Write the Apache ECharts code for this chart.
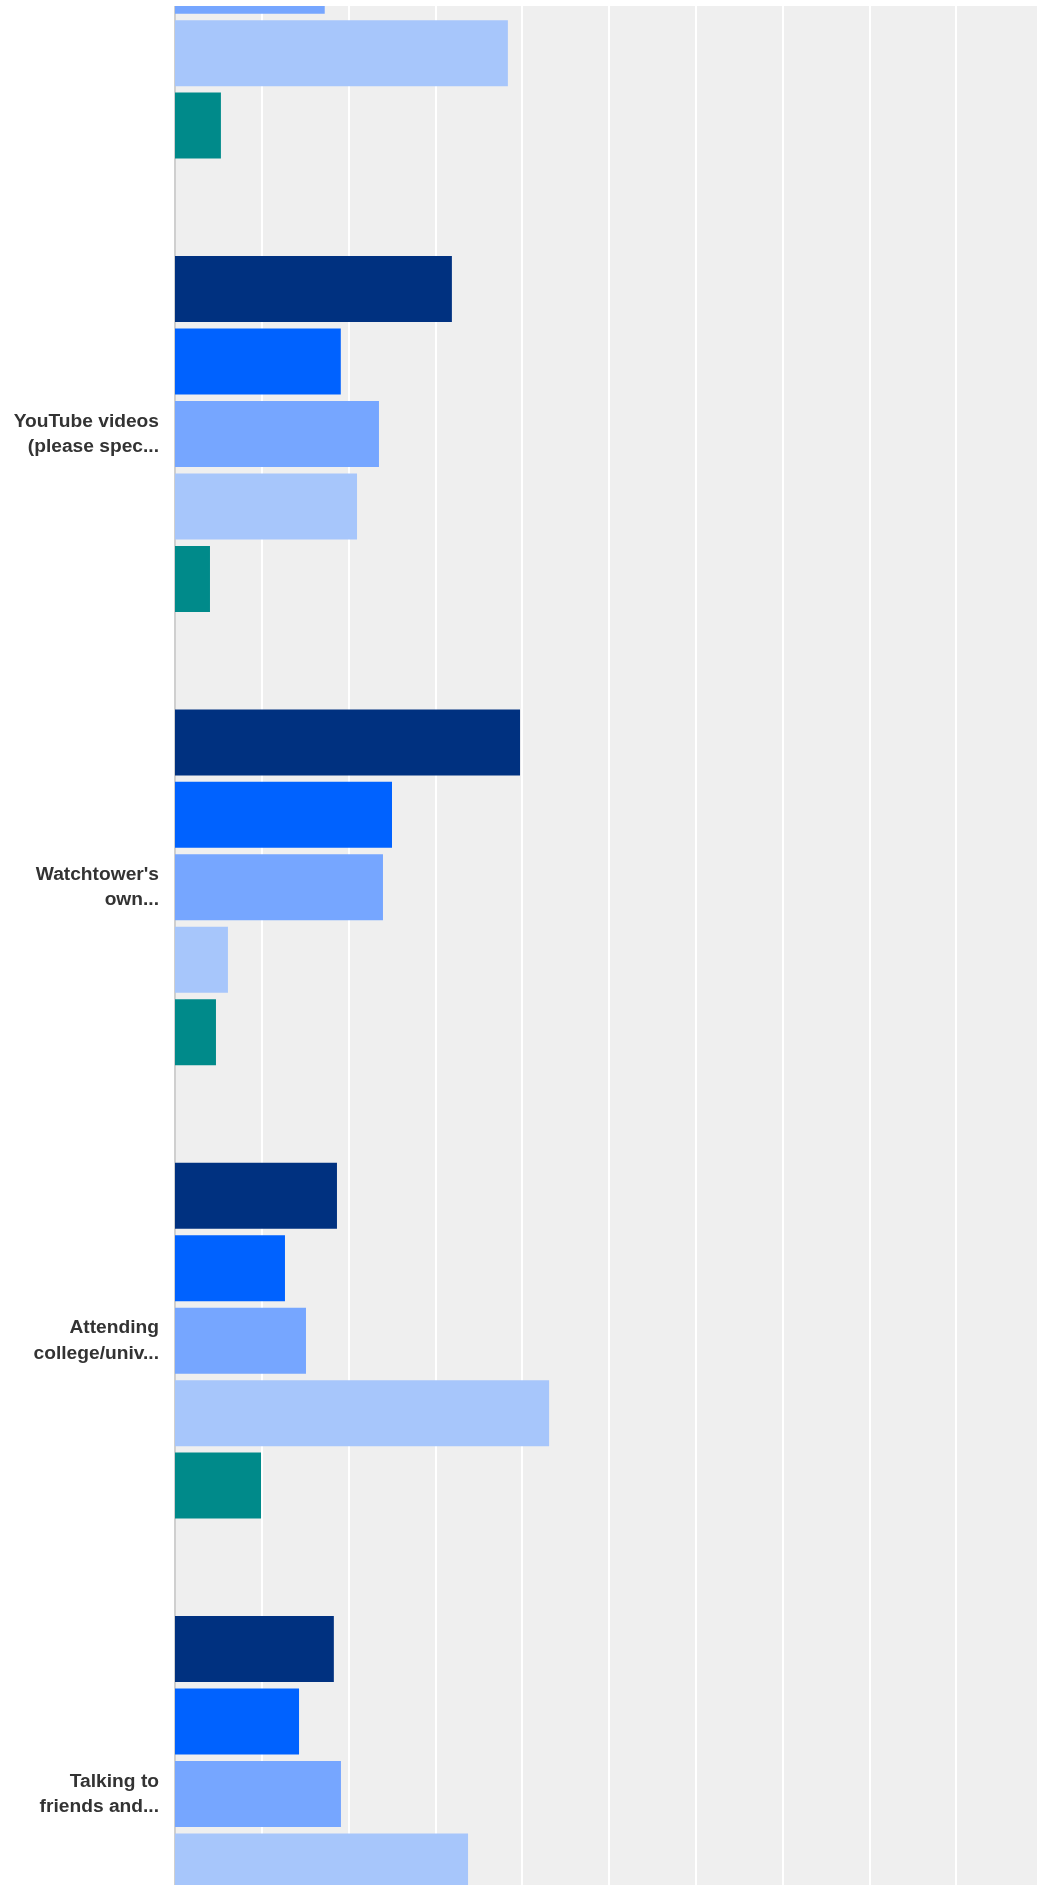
<!DOCTYPE html>
<html>
<head>
<meta charset="utf-8">
<script src="https://cdn.jsdelivr.net/npm/echarts/dist/echarts.min.js"></script>
<style>
  html, body { margin: 0; padding: 0; background: #ffffff; }
  #chart { width: 1037px; height: 1885px; }
</style>
</head>
<body>
<div id="chart"></div>
<script>
// Categories (top one is cut off in the reference; its label is not visible)
const categories = [
  '',
  'YouTube videos\n(please spec...',
  "Watchtower's\nown...",
  'Attending\ncollege/univ...',
  'Talking to\nfriends and...'
];

// Series values (percent); null = not visible
const seriesNames = ['Series 1', 'Series 2', 'Series 3', 'Series 4', 'Series 5'];
const darkValues  = [null, 31.9, 39.75, 18.66, 18.3];
const blueValues  = [null, 19.1, 25.0, 12.67, 14.29];
const midValues   = [17.25, 23.5, 23.96, 15.09, 19.12];
const lightValues = [38.35, 20.97, 6.1, 43.1, 33.76];
const tealValues  = [5.29, 4.03, 4.72, 9.91, null];

const colors = ['#003180', '#0062FF', '#76A6FF', '#A7C6FB', '#008A8A'];
const allValues = [darkValues, blueValues, midValues, lightValues, tealValues];

const chart = echarts.init(document.getElementById('chart'), null, { renderer: 'canvas' });

const series = allValues.map((vals, i) => ({
  name: seriesNames[i],
  type: 'bar',
  data: vals,
  barWidth: 66,
  barGap: '9.8%',
  itemStyle: { color: colors[i] },
  emphasis: { disabled: true },
  z: 2
}));

chart.setOption({
  animation: false,
  grid: {
    left: 175,
    top: -246,
    width: 868,
    height: 2266.67,
    show: true,
    backgroundColor: '#EFEFEF',
    borderWidth: 0,
    containLabel: false,
    outerBoundsMode: 'none'
  },
  xAxis: {
    type: 'value',
    min: 0,
    max: 100,
    interval: 10,
    axisLabel: { show: false },
    axisLine: { show: false },
    axisTick: { show: false },
    splitLine: {
      show: true,
      showMinLine: false,
      lineStyle: { color: '#FFFFFF', width: 2 }
    }
  },
  yAxis: {
    type: 'category',
    data: categories,
    inverse: true,
    axisTick: { show: false },
    axisLine: { show: true, lineStyle: { color: '#CFCFCF', width: 2 } },
    splitLine: { show: false },
    axisLabel: {
      show: true,
      margin: 16,
      color: '#333333',
      fontFamily: '"Liberation Sans", Arial, sans-serif',
      fontWeight: 'bold',
      fontSize: 19.2,
      lineHeight: 25.3,
      align: 'right'
    }
  },
  graphic: [
    {
      type: 'rect',
      left: 0,
      top: 0,
      z: 100,
      shape: { width: 1037, height: 6 },
      style: { fill: '#FFFFFF' }
    }
  ],
  series: series
});
</script>
</body>
</html>
